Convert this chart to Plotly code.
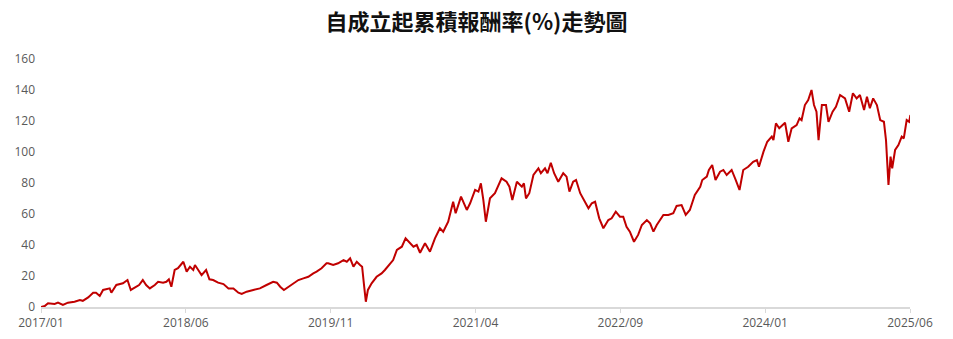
import plotly.graph_objects as go

title_text = "自成立起累積報酬率(%)走勢圖"

# trading-day index and cumulative return (%)
day = [0, 9, 17, 33, 41, 53, 65, 81, 94, 101, 114, 126, 133, 142, 150, 166, 170, 182, 198, 209,
       217, 230, 237, 246, 254, 263, 275, 283, 295, 303, 309, 315, 323, 331, 341, 344, 352, 360, 368, 372,
       380, 388, 399, 407, 416, 428, 441, 453, 465, 477, 485, 497, 513, 529, 545, 561, 570, 578, 587, 598,
       610, 622, 634, 646, 658, 666, 678, 690, 694, 706, 718, 731, 739, 747, 755, 763, 771, 776, 781, 785,
       790, 799, 811, 823, 831, 843, 851, 860, 872, 881, 892, 900, 908, 916, 928, 940, 952, 964, 972, 984,
       996, 1002, 1015, 1029, 1037, 1049, 1057, 1063, 1069, 1075, 1085, 1097, 1113, 1125, 1132, 1139, 1150, 1162, 1167, 1172,
       1180, 1190, 1202, 1208, 1218, 1224, 1232, 1240, 1250, 1262, 1270, 1277, 1286, 1293, 1303, 1315, 1323, 1331, 1339, 1349,
       1359, 1371, 1379, 1389, 1399, 1407, 1415, 1423, 1433, 1443, 1452, 1464, 1472, 1480, 1488, 1504, 1516, 1528, 1536, 1548,
       1558, 1568, 1580, 1593, 1598, 1609, 1614, 1622, 1630, 1641, 1649, 1657, 1669, 1679, 1688, 1697, 1709, 1721, 1730, 1735,
       1742, 1746, 1755, 1766, 1770, 1776, 1784, 1798, 1806, 1814, 1826, 1833, 1838, 1846, 1854, 1862, 1868, 1874, 1879, 1887,
       1897, 1903, 1913, 1921, 1931, 1943, 1953, 1962, 1971, 1979, 1989, 1996, 2003, 2011, 2020, 2028, 2037, 2042, 2048, 2053,
       2057, 2064, 2072, 2080, 2085, 2092, 2098, 2101]

ret = [0, 0.6, 2.4, 2.0, 2.8, 1.3, 2.8, 3.4, 4.5, 4.0, 6.2, 9.2, 9.2, 7.1, 11.0, 12.0, 9.2, 14.2, 15.3, 17.4,
       11.0, 13.1, 14.2, 17.4, 14.2, 12.0, 14.2, 16.3, 15.7, 16.3, 17.9, 13.1, 23.9, 25.0, 28.6, 29.2, 22.8, 26.0, 23.9, 27.1,
       23.9, 20.6, 23.9, 17.9, 17.4, 15.7, 14.8, 12.0, 12.0, 9.2, 8.4, 9.9, 11.0, 12.0, 14.2, 16.3, 15.7, 13.1, 11.0, 13.1,
       15.3, 17.4, 18.5, 19.5, 21.7, 22.8, 25.0, 28.2, 28.2, 27.1, 28.2, 30.3, 29.2, 31.4, 26.0, 29.2, 27.1, 26.0, 13.1, 3.4,
       11.0, 15.3, 19.5, 21.7, 23.9, 28.2, 30.3, 36.8, 38.9, 44.3, 41.1, 38.9, 40.0, 35.0, 41.1, 35.7, 44.3, 50.8, 48.6, 55.0,
       67.9, 60.5, 71.2, 62.6, 66.9, 75.5, 74.4, 79.8, 69.0, 55.0, 70.1, 73.4, 83.0, 80.8, 77.6, 69.0, 80.8, 77.6, 79.8, 70.1,
       73.4, 85.2, 89.5, 86.3, 89.5, 86.3, 93.1, 86.3, 80.8, 86.3, 84.1, 74.4, 80.8, 81.9, 73.4, 67.9, 63.7, 66.9, 67.9, 57.2,
       50.8, 56.1, 57.2, 61.5, 58.3, 58.3, 51.8, 48.6, 42.1, 46.5, 52.9, 56.1, 54.0, 48.6, 52.9, 59.4, 59.4, 60.5, 65.2, 65.8,
       59.4, 62.6, 72.3, 77.6, 81.9, 84.1, 88.4, 91.6, 81.9, 87.3, 88.4, 85.2, 88.4, 81.9, 75.5, 88.4, 90.5, 93.7, 94.8, 90.5,
       97.0, 100.2, 106.6, 109.9, 107.7, 118.5, 115.3, 118.9, 106.6, 115.3, 117.4, 121.7, 120.6, 130.3, 133.5, 140.0, 130.3, 126.0, 107.7, 130.3,
       130.3, 119.5, 126.0, 129.2, 136.8, 134.6, 126.0, 137.9, 134.6, 136.8, 127.1, 135.7, 128.2, 134.6, 130.3, 120.6, 119.5, 107.7, 78.7, 97.0,
       89.5, 101.3, 104.5, 109.9, 108.8, 120.6, 119.5, 123.9]

tick_days = [0, 350, 700, 1050, 1400, 1750, 2100]
tick_labels = ["2017/01", "2018/06", "2019/11", "2021/04", "2022/09", "2024/01", "2025/06"]
y_ticks = [0, 20, 40, 60, 80, 100, 120, 140, 160]

fig = go.Figure()
fig.add_trace(go.Scatter(x=day, y=ret, mode="lines",
                         line=dict(color="#C00000", width=2), showlegend=False))

fig.update_layout(
    width=953, height=339,
    margin=dict(l=41, r=43, t=59, b=32),
    paper_bgcolor="white", plot_bgcolor="white",
    title=dict(text="<b>" + title_text + "</b>", x=0.5, xanchor="center",
               y=1 - 22 / 339, yanchor="middle", yref="container",
               font=dict(family="Noto Sans CJK TC", size=22, color="#111111")),
    font=dict(family="Open Sans, Noto Sans CJK TC", size=12, color="#595959"),
)
fig.update_xaxes(range=[0, 2100], tickvals=tick_days, ticktext=tick_labels,
                 showgrid=False, zeroline=False, showline=True, linecolor="#d9d9d9", linewidth=2,
                 ticks="outside", ticklen=4, tickcolor="#d9d9d9", tickwidth=1,
                 automargin=False,
                 tickfont=dict(size=12, color="#595959"))
fig.update_yaxes(range=[0, 160], tickvals=y_ticks, showgrid=False, zeroline=False, showline=False,
                 ticks="", tickfont=dict(size=12, color="#595959"), ticklabelstandoff=5)

fig.write_html("out.html")
